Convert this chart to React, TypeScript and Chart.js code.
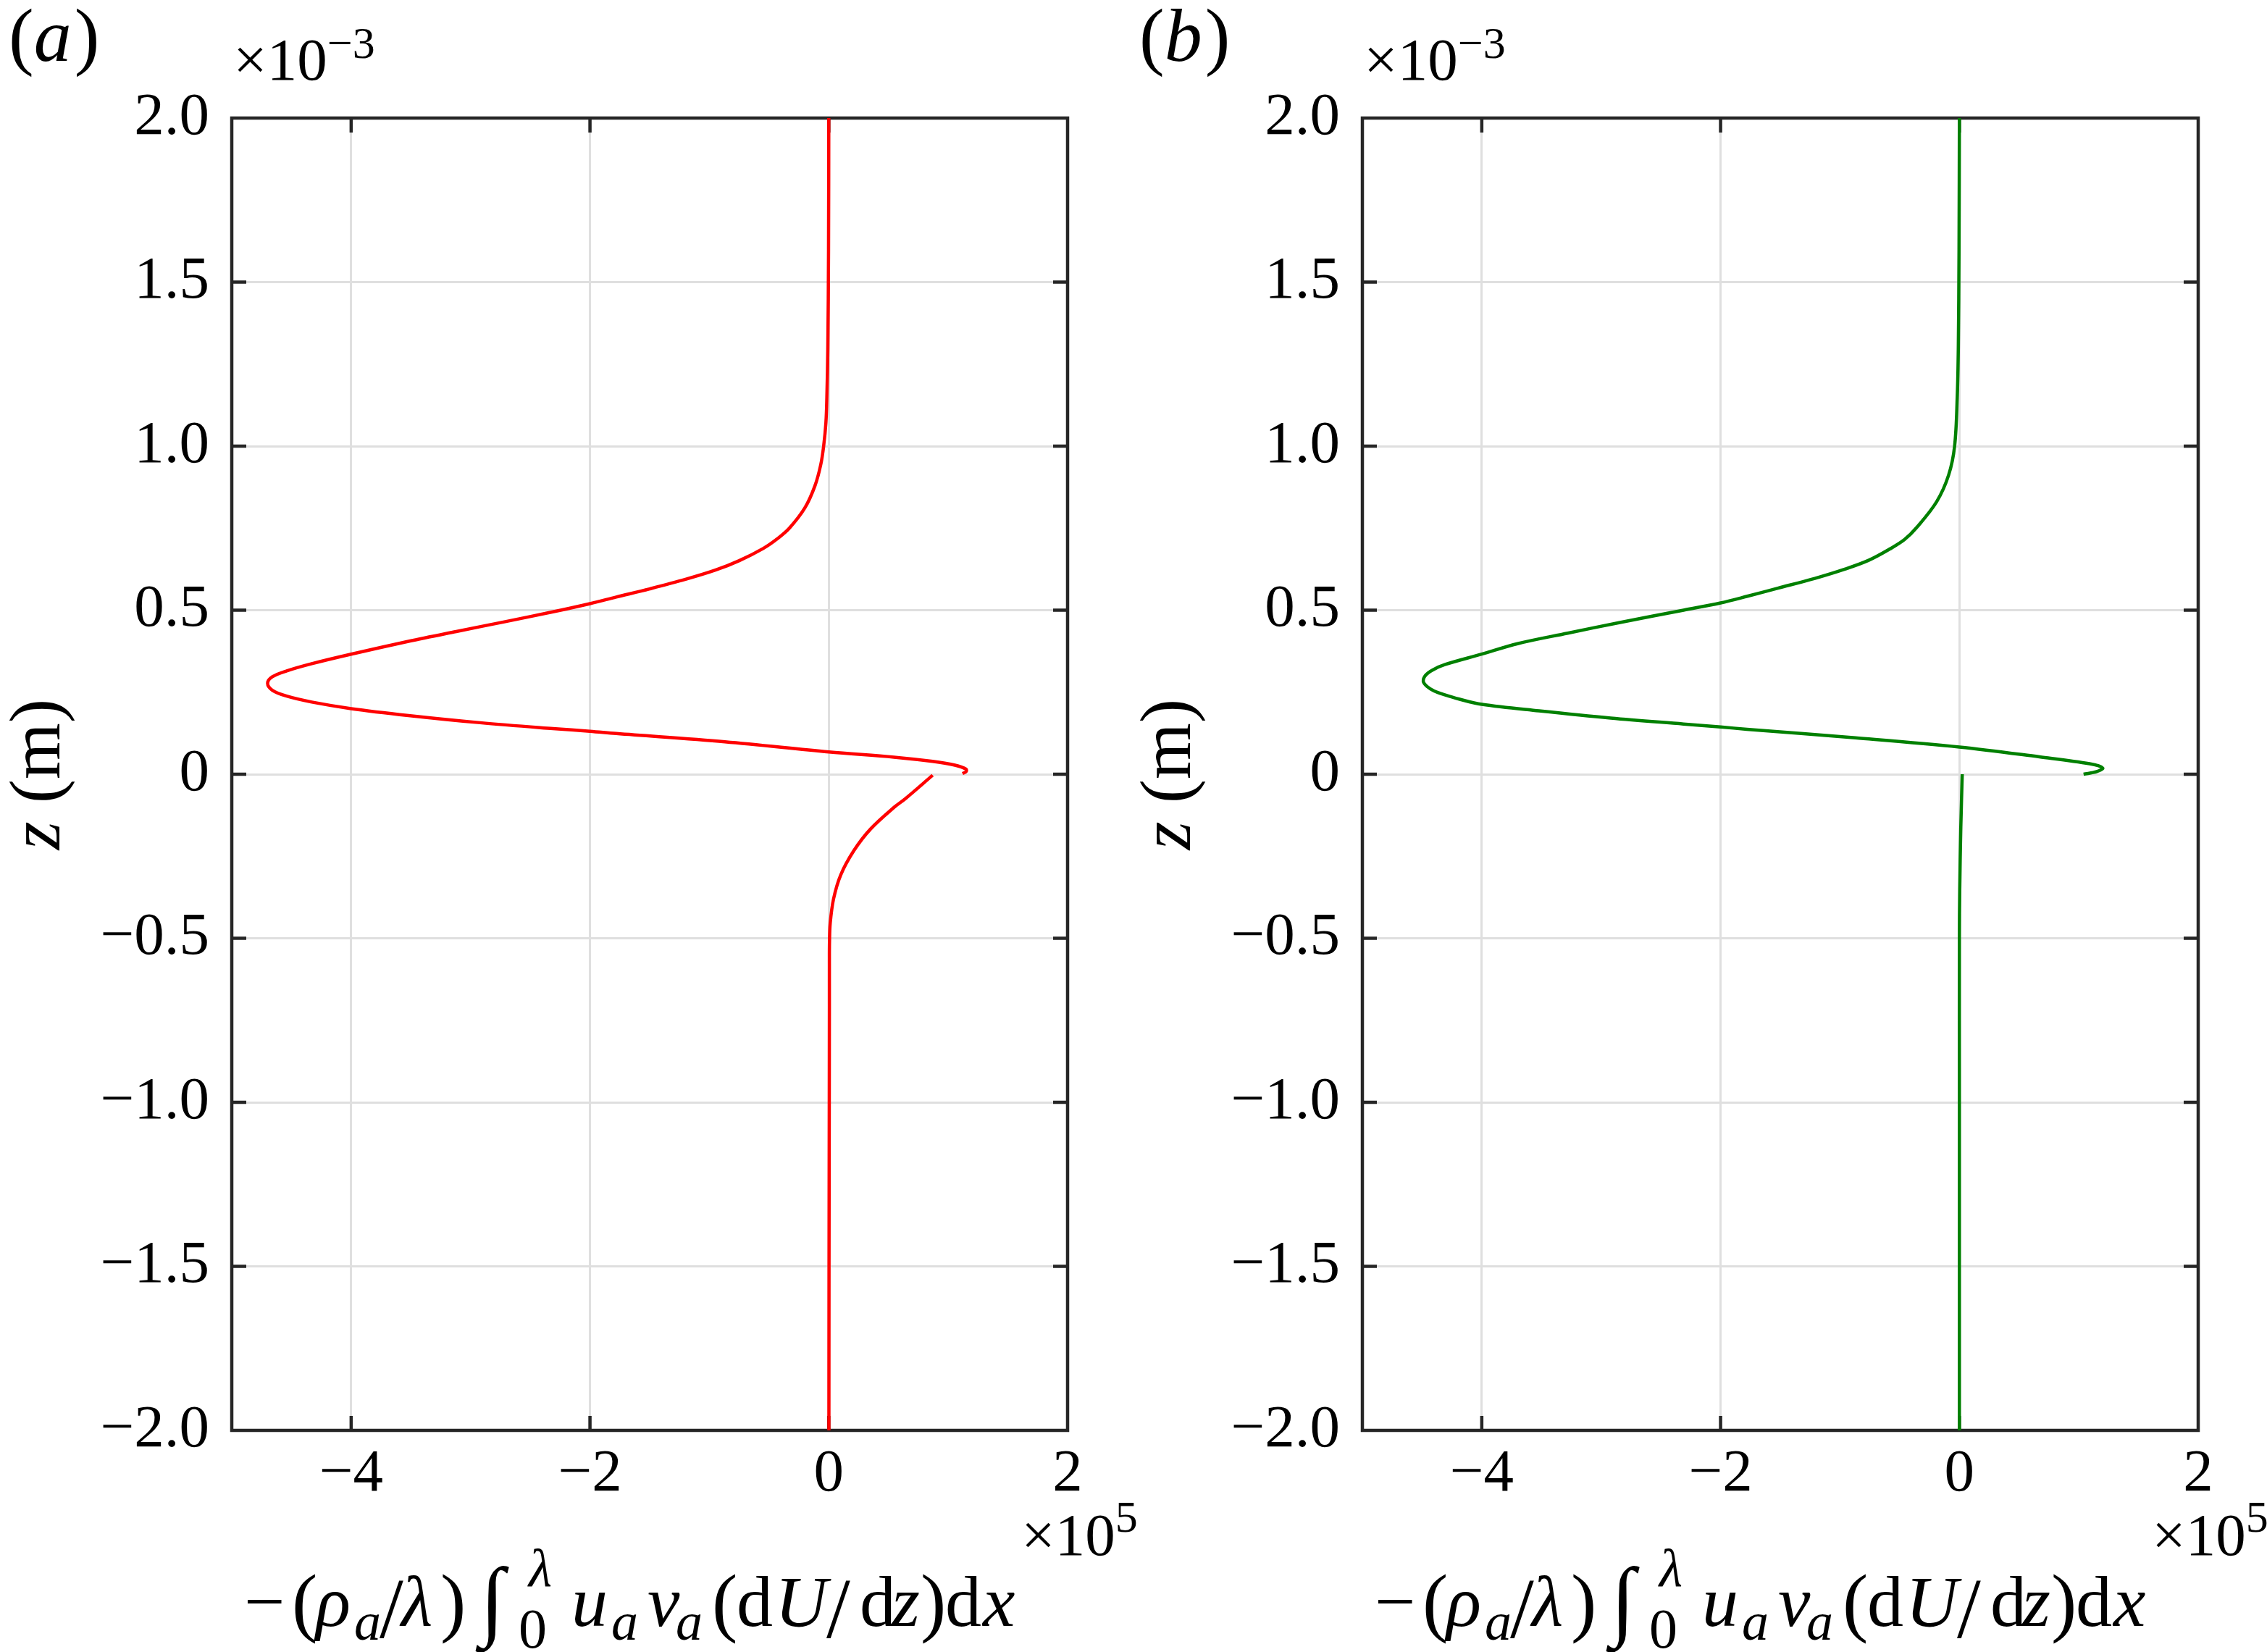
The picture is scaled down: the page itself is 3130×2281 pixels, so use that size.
import React, { useEffect, useRef } from 'react';
import { Chart, registerables } from 'chart.js';

Chart.register(...registerables);

const FONT = '"Liberation Serif", "Times New Roman", Times, serif';

// ---------------- data (x in units of 10^5, z in units of 10^-3 m) ----------------
const redUpperZ = [2.0, 1.6, 1.3, 1.15, 1.072, 1.0, 0.944, 0.88, 0.812, 0.75, 0.718, 0.688, 0.651, 0.622, 0.594, 0.565, 0.54, 0.52, 0.495, 0.465, 0.435, 0.405, 0.366, 0.337, 0.315, 0.297, 0.277, 0.256, 0.238, 0.22, 0.2, 0.179, 0.157, 0.139, 0.131, 0.124, 0.099, 0.068, 0.052, 0.039, 0.028, 0.0155, 0.008, 0.002];
const redUpperX = [0.0, -0.002, -0.008, -0.016, -0.024, -0.043, -0.067, -0.115, -0.2, -0.33, -0.43, -0.55, -0.75, -0.95, -1.2, -1.5, -1.78, -2.0, -2.31, -2.71, -3.12, -3.52, -4.0, -4.33, -4.54, -4.66, -4.7, -4.66, -4.54, -4.33, -4.0, -3.52, -2.92, -2.31, -2.0, -1.78, -0.87, 0.0, 0.546, 0.87, 1.05, 1.15, 1.15, 1.12];
const redLowerZ = [-0.003, -0.075, -0.1, -0.167, -0.233, -0.307, -0.38, -0.454, -0.51, -0.577, -0.7, -1.0, -1.5, -2.0];
const redLowerX = [0.87, 0.64, 0.55, 0.35, 0.21, 0.1, 0.04, 0.012, 0.006, 0.005, 0.005, 0.004, 0.002, 0.001];

const greenUpperZ = [2.0, 1.6, 1.3, 1.15, 1.0, 0.912, 0.831, 0.751, 0.715, 0.687, 0.652, 0.625, 0.597, 0.567, 0.543, 0.522, 0.5, 0.462, 0.43, 0.398, 0.366, 0.334, 0.318, 0.302, 0.283, 0.268, 0.254, 0.242, 0.229, 0.213, 0.193, 0.171, 0.153, 0.144, 0.137, 0.111, 0.083, 0.053, 0.032, 0.019, 0.008, 0.0];
const greenUpperX = [0.0, -0.003, -0.009, -0.018, -0.04, -0.09, -0.19, -0.36, -0.46, -0.58, -0.76, -0.96, -1.21, -1.52, -1.77, -2.0, -2.31, -2.85, -3.28, -3.7, -4.0, -4.31, -4.41, -4.47, -4.49, -4.46, -4.4, -4.31, -4.19, -4.0, -3.52, -2.92, -2.31, -2.0, -1.78, -0.87, 0.0, 0.67, 1.09, 1.2, 1.15, 1.04];
const greenLowerZ = [0.0, -0.16, -0.35, -0.5, -1.0, -1.5, -2.0];
const greenLowerX = [0.024, 0.012, 0.003, 0.0, 0.0, 0.0, 0.0];

const xTickValues = [-4, -2, 0, 2];
const xTickLabels = ['−4', '−2', '0', '2'];
const yTickValues = [-2, -1.5, -1, -0.5, 0, 0.5, 1, 1.5, 2];
const yTickLabels = ['−2.0', '−1.5', '−1.0', '−0.5', '0', '0.5', '1.0', '1.5', '2.0'];
const xRange = [-5, 2];
const yRange = [-2, 2];
const xExponent = '5';
const yExponent = '−3';
const panelLetters = ['a', 'b'];
const seriesColors = ['rgb(255,0,0)', 'rgb(0,128,0)'];

const pts = (xs: number[], zs: number[]) => zs.map((z, i) => ({ x: xs[i], y: z }));

const panelData = [
  [pts(redUpperX, redUpperZ), pts(redLowerX, redLowerZ)],
  [pts(greenUpperX, greenUpperZ), pts(greenLowerX, greenLowerZ)],
];

// ---------------- drawing helpers ----------------
const CW = 1569;
const CH = 2281;

function font(size: number, italic = false) {
  return `${italic ? 'italic ' : ''}${size}px ${FONT}`;
}

type Piece = { t: string; dx: number; it?: boolean; size?: number; dy?: number };

const titlePieces: Piece[] = [
  { t: '−', dx: 0 },
  { t: '(', dx: 66, size: 106, dy: 2 },
  { t: 'ρ', dx: 99, it: true },
  { t: 'a', dx: 152, it: true, size: 74, dy: 19 },
  { t: '/', dx: 187, size: 118, dy: 16 },
  { t: 'λ', dx: 217, it: true },
  { t: ')', dx: 271, size: 106, dy: 2 },
  { t: '∫', dx: 326, size: 122, dy: 4 },
  { t: '0', dx: 379, size: 78, dy: 30 },
  { t: 'λ', dx: 393, it: true, size: 74, dy: -55 },
  { t: 'u', dx: 452, it: true },
  { t: 'a', dx: 507, it: true, size: 74, dy: 19 },
  { t: 'v', dx: 557, it: true },
  { t: 'a', dx: 596, it: true, size: 74, dy: 19 },
  { t: '(', dx: 646, size: 106, dy: 2 },
  { t: 'd', dx: 680 },
  { t: 'U', dx: 733, it: true },
  { t: '/', dx: 804, size: 118, dy: 16 },
  { t: 'd', dx: 850 },
  { t: 'z', dx: 894, it: true },
  { t: ')', dx: 934, size: 106, dy: 2 },
  { t: 'd', dx: 968 },
  { t: 'x', dx: 1020, it: true },
];

const decorPlugin = {
  id: 'decor',
  beforeDatasetsDraw(chart: any) {
    const { ctx, chartArea } = chart;
    const { left, right, top, bottom } = chartArea;
    const xs = chart.scales.x;
    const ys = chart.scales.y;
    ctx.save();
    ctx.strokeStyle = '#262626';
    ctx.lineWidth = 4.5;
    ctx.lineJoin = 'miter';
    ctx.strokeRect(left, top, right - left, bottom - top);
    const TL = 20;
    ctx.beginPath();
    for (const v of xTickValues) {
      const px = xs.getPixelForValue(v);
      if (px <= left + 2 || px >= right - 2) continue;
      ctx.moveTo(px, bottom);
      ctx.lineTo(px, bottom - TL);
      ctx.moveTo(px, top);
      ctx.lineTo(px, top + TL);
    }
    for (const v of yTickValues) {
      const py = ys.getPixelForValue(v);
      if (py <= top + 2 || py >= bottom - 2) continue;
      ctx.moveTo(left, py);
      ctx.lineTo(left + TL, py);
      ctx.moveTo(right, py);
      ctx.lineTo(right - TL, py);
    }
    ctx.stroke();
    ctx.restore();
  },
  afterDraw(chart: any, _args: any, opts: any) {
    const { ctx, chartArea } = chart;
    const { left, right, top, bottom } = chartArea;
    ctx.save();
    ctx.fillStyle = '#000';
    ctx.textBaseline = 'alphabetic';
    ctx.textAlign = 'left';

    // panel label (a)/(b)
    let px = left - 308;
    const py = top - 79;
    ctx.font = font(104);
    ctx.fillText('(', px, py);
    px += ctx.measureText('(').width;
    ctx.font = font(104, true);
    ctx.fillText(opts.letter, px, py);
    px += ctx.measureText(opts.letter).width + 4;
    ctx.font = font(104);
    ctx.fillText(')', px, py);

    // y exponent
    ctx.font = font(83);
    ctx.fillText('×10', left + 2, top - 53);
    const w10 = ctx.measureText('×10').width;
    ctx.font = font(62);
    ctx.fillText(yExponent, left + 2 + w10, top - 83);

    // x exponent
    ctx.font = font(83);
    ctx.fillText('×10', right - 64, bottom + 172);
    const w10b = ctx.measureText('×10').width;
    ctx.font = font(62);
    ctx.fillText(xExponent, right - 64 + w10b, bottom + 140);

    // x-axis title
    const x0 = left + 17;
    const by = bottom + 270;
    for (const p of titlePieces) {
      ctx.font = font(p.size ?? 100, !!p.it);
      ctx.fillText(p.t, x0 + p.dx, by + (p.dy ?? 0));
    }

    // y-axis title (rotated)
    ctx.translate(left - 238, (top + bottom) / 2);
    ctx.rotate(-Math.PI / 2);
    ctx.font = font(100, true);
    const wz = ctx.measureText('z').width;
    ctx.font = font(100);
    const wr = ctx.measureText(' (m)').width;
    const sx = -(wz + wr) / 2;
    ctx.font = font(100, true);
    ctx.fillText('z', sx, 0);
    ctx.font = font(100);
    ctx.fillText(' (m)', sx + wz, 0);
    ctx.restore();
  },
};

function makeConfig(i: number): any {
  return {
    type: 'line',
    data: {
      datasets: panelData[i].map((d) => ({
        data: d,
        borderColor: seriesColors[i],
        backgroundColor: seriesColors[i],
        borderWidth: 4.5,
        pointRadius: 0,
        pointHoverRadius: 0,
        tension: 0.35,
        fill: false,
        clip: 6,
      })),
    },
    options: {
      animation: false,
      responsive: false,
      devicePixelRatio: 1,
      events: [],
      layout: { padding: { top: 163, right: CW - 1474, left: 0, bottom: 0 } },
      plugins: {
        legend: { display: false },
        tooltip: { enabled: false },
        title: { display: false },
        decor: { letter: panelLetters[i] },
      },
      scales: {
        x: {
          type: 'linear',
          min: xRange[0],
          max: xRange[1],
          afterBuildTicks: (s: any) => {
            s.ticks = xTickValues.map((v) => ({ value: v }));
          },
          afterFit: (s: any) => {
            s.height = CH - 1975;
          },
          grid: { color: '#dfdfdf', lineWidth: 3, drawTicks: false },
          border: { display: false },
          ticks: {
            padding: 11,
            maxRotation: 0,
            autoSkip: false,
            color: '#000',
            font: { family: FONT, size: 83 },
            callback: (_v: any, idx: number) => xTickLabels[idx],
          },
        },
        y: {
          type: 'linear',
          min: yRange[0],
          max: yRange[1],
          afterBuildTicks: (s: any) => {
            s.ticks = yTickValues.map((v) => ({ value: v }));
          },
          afterFit: (s: any) => {
            s.width = 320;
          },
          grid: { color: '#dfdfdf', lineWidth: 3, drawTicks: false },
          border: { display: false },
          ticks: {
            padding: 31,
            autoSkip: false,
            color: '#000',
            font: { family: FONT, size: 83 },
            callback: (_v: any, idx: number) => yTickLabels[idx],
          },
        },
      },
    },
    plugins: [decorPlugin],
  };
}

function Panel({ index, left }: { index: number; left: number }) {
  const ref = useRef<HTMLCanvasElement>(null);
  useEffect(() => {
    const chart = new Chart(ref.current as HTMLCanvasElement, makeConfig(index));
    return () => chart.destroy();
  }, [index]);
  return (
    <canvas
      ref={ref}
      width={CW}
      height={CH}
      style={{ position: 'absolute', left, top: 0, width: CW, height: CH }}
    />
  );
}

export default function App() {
  return (
    <div
      style={{
        position: 'absolute',
        left: 0,
        top: 0,
        width: 3130,
        height: 2281,
        background: '#ffffff',
        overflow: 'hidden',
      }}
    >
      <Panel index={0} left={0} />
      <Panel index={1} left={1561} />
    </div>
  );
}
